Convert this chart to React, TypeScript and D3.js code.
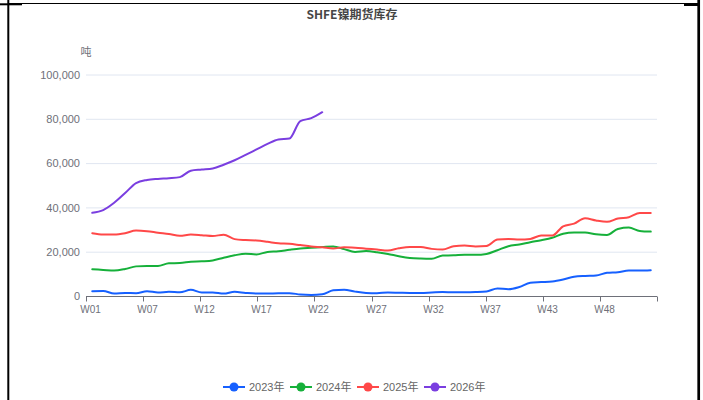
import React, { useEffect, useRef } from 'react'
import * as d3 from 'd3'

const years = ['2023年', '2024年', '2025年', '2026年']
const colors = ['#1660ff', '#16b03a', '#ff4848', '#7a3ee0']
const weekTicks = ['W01', 'W07', 'W12', 'W17', 'W22', 'W27', 'W32', 'W37', 'W43', 'W48']
const yTicks = [0, 20000, 40000, 60000, 80000, 100000]

const s2023 = [2400, 2500, 1300, 1600, 1500, 2400, 1800, 2100, 1900, 3000, 1800, 1800, 1300, 2100, 1600, 1300, 1300, 1500, 1500, 900, 700, 1000, 2800, 3100, 2200, 1600,
  1500, 1800, 1700, 1600, 1600, 1800, 2000, 1900, 1900, 2000, 2300, 3600, 3300, 4300, 6200, 6500, 6800, 7700, 8900, 9300, 9500, 10700, 11000, 11700, 11700, 11900]
const s2024 = [12300, 12000, 11700, 12400, 13600, 13800, 13800, 15000, 15100, 15700, 15900, 16300, 17500, 18600, 19300, 19000, 20100, 20400, 21100, 21700, 22000, 22300, 22600, 21400, 20100, 20500,
  20000, 19200, 18200, 17400, 17100, 17000, 18500, 18600, 18900, 18800, 19200, 20900, 22700, 23500, 24500, 25400, 26500, 28300, 28900, 28900, 28100, 27800, 30500, 31100, 29600, 29300]
const s2025 = [28600, 28000, 28000, 28600, 29800, 29500, 28800, 28200, 27400, 28000, 27700, 27300, 27900, 25900, 25500, 25300, 24700, 24000, 23800, 23200, 22600, 22200, 21700, 22200, 22000, 21600,
  21200, 20800, 21800, 22400, 22300, 21500, 21200, 22700, 23000, 22600, 22800, 25700, 26000, 25700, 26000, 27500, 27500, 31700, 32900, 35300, 34300, 33700, 35200, 35800, 37700, 37700]
const s2026 = [37800, 39000, 42300, 46700, 51200, 52600, 53100, 53400, 53900, 56800, 57300, 57800, 59500, 61500, 63900, 66400, 68900, 70900, 71300, 79200, 80500, 83200]

const seriesList = [s2023, s2024, s2025, s2026]

export default function App() {
  const svgRef = useRef<SVGSVGElement>(null)

  useEffect(() => {
    const width = 703, height = 400
    const svg = d3.select(svgRef.current).attr('width', width).attr('height', height)
    svg.selectAll('*').remove()

    // frame
    svg.append('rect').attr('width', width).attr('height', height).attr('fill', '#fff')
    svg.append('line').attr('x1', 8).attr('x2', 699).attr('y1', 3.5).attr('y2', 3.5).attr('stroke', '#000').attr('stroke-width', 1)
    svg.append('line').attr('x1', 0).attr('x2', 22).attr('y1', 4.3).attr('y2', 4.3).attr('stroke', '#000').attr('stroke-width', 2)
    svg.append('line').attr('x1', 684).attr('x2', 699).attr('y1', 5).attr('y2', 5).attr('stroke', '#000').attr('stroke-width', 2)
    svg.append('line').attr('x1', 8.3).attr('x2', 8.3).attr('y1', 0).attr('y2', height).attr('stroke', '#000').attr('stroke-width', 2)
    svg.append('line').attr('x1', 698.7).attr('x2', 698.7).attr('y1', 0).attr('y2', height).attr('stroke', '#000').attr('stroke-width', 2.7)

    svg.append('text').attr('x', 352).attr('y', 19).attr('text-anchor', 'middle')
      .attr('font-size', 12).attr('font-weight', 'bold').attr('fill', '#464646')
      .attr('font-family', '"Noto Sans CJK SC", sans-serif').text('SHFE镍期货库存')

    const x = d3.scaleLinear().domain([0, 365]).range([86, 657])
    const y = d3.scaleLinear().domain([0, 100000]).range([296.5, 75])
    const font = '"Liberation Sans", "Noto Sans CJK SC", sans-serif'

    // grid + y labels
    yTicks.forEach(t => {
      if (t > 0) svg.append('line').attr('x1', 86).attr('x2', 657).attr('y1', y(t)).attr('y2', y(t))
        .attr('stroke', '#e0e6f1').attr('stroke-width', 1)
      svg.append('text').attr('x', 80).attr('y', y(t)).attr('dy', '0.35em').attr('text-anchor', 'end')
        .attr('font-size', 11).attr('font-family', font).attr('fill', '#6e7079').text(d3.format(',')(t))
    })
    svg.append('text').attr('x', 86).attr('y', 52).attr('dy', '0.35em').attr('text-anchor', 'middle')
      .attr('font-size', 11).attr('font-family', '"Noto Sans CJK SC", sans-serif').attr('fill', '#6e7079').text('吨')

    // x axis
    svg.append('line').attr('x1', 86).attr('x2', 657).attr('y1', y(0)).attr('y2', y(0)).attr('stroke', '#6e7079')
    const tickDays = d3.range(0, 11).map(i => i * 36.5)
    tickDays.forEach((d, i) => {
      const tx = Math.round(x(d)) + 0.5
      svg.append('line').attr('x1', tx).attr('x2', tx).attr('y1', y(0)).attr('y2', y(0) + 5).attr('stroke', '#6e7079')
      if (weekTicks[i]) svg.append('text').attr('x', tx + 4).attr('y', y(0) + 13).attr('dy', '0.35em')
        .attr('text-anchor', 'middle').attr('font-size', 10).attr('font-family', font).attr('fill', '#6e7079').text(weekTicks[i])
    })

    const line = d3.line<number>().x((_, i) => x(4 + 7 * i)).y(v => y(v)).curve(d3.curveMonotoneX)
    seriesList.forEach((s, k) => {
      svg.append('path').attr('d', line(s)).attr('fill', 'none').attr('stroke', colors[k])
        .attr('stroke-width', 2).attr('stroke-linejoin', 'round').attr('stroke-linecap', 'round')
    })

    // legend
    const lg = svg.append('g').attr('transform', 'translate(223,387)')
    years.forEach((yr, i) => {
      const g = lg.append('g').attr('transform', `translate(${i * 67},0)`)
      g.append('line').attr('x1', 0).attr('x2', 22).attr('y1', 0).attr('y2', 0).attr('stroke', colors[i]).attr('stroke-width', 2)
      g.append('circle').attr('cx', 11).attr('cy', 0).attr('r', 4.5).attr('fill', colors[i])
      g.append('text').attr('x', 26).attr('y', 0).attr('dy', '0.35em').attr('font-size', 11)
        .attr('font-family', font).attr('fill', '#666').text(yr)
    })
  }, [])

  return (
    <div>
      <svg ref={svgRef} style={{ position: 'absolute', left: 0, top: 0 }}></svg>
    </div>
  )
}
